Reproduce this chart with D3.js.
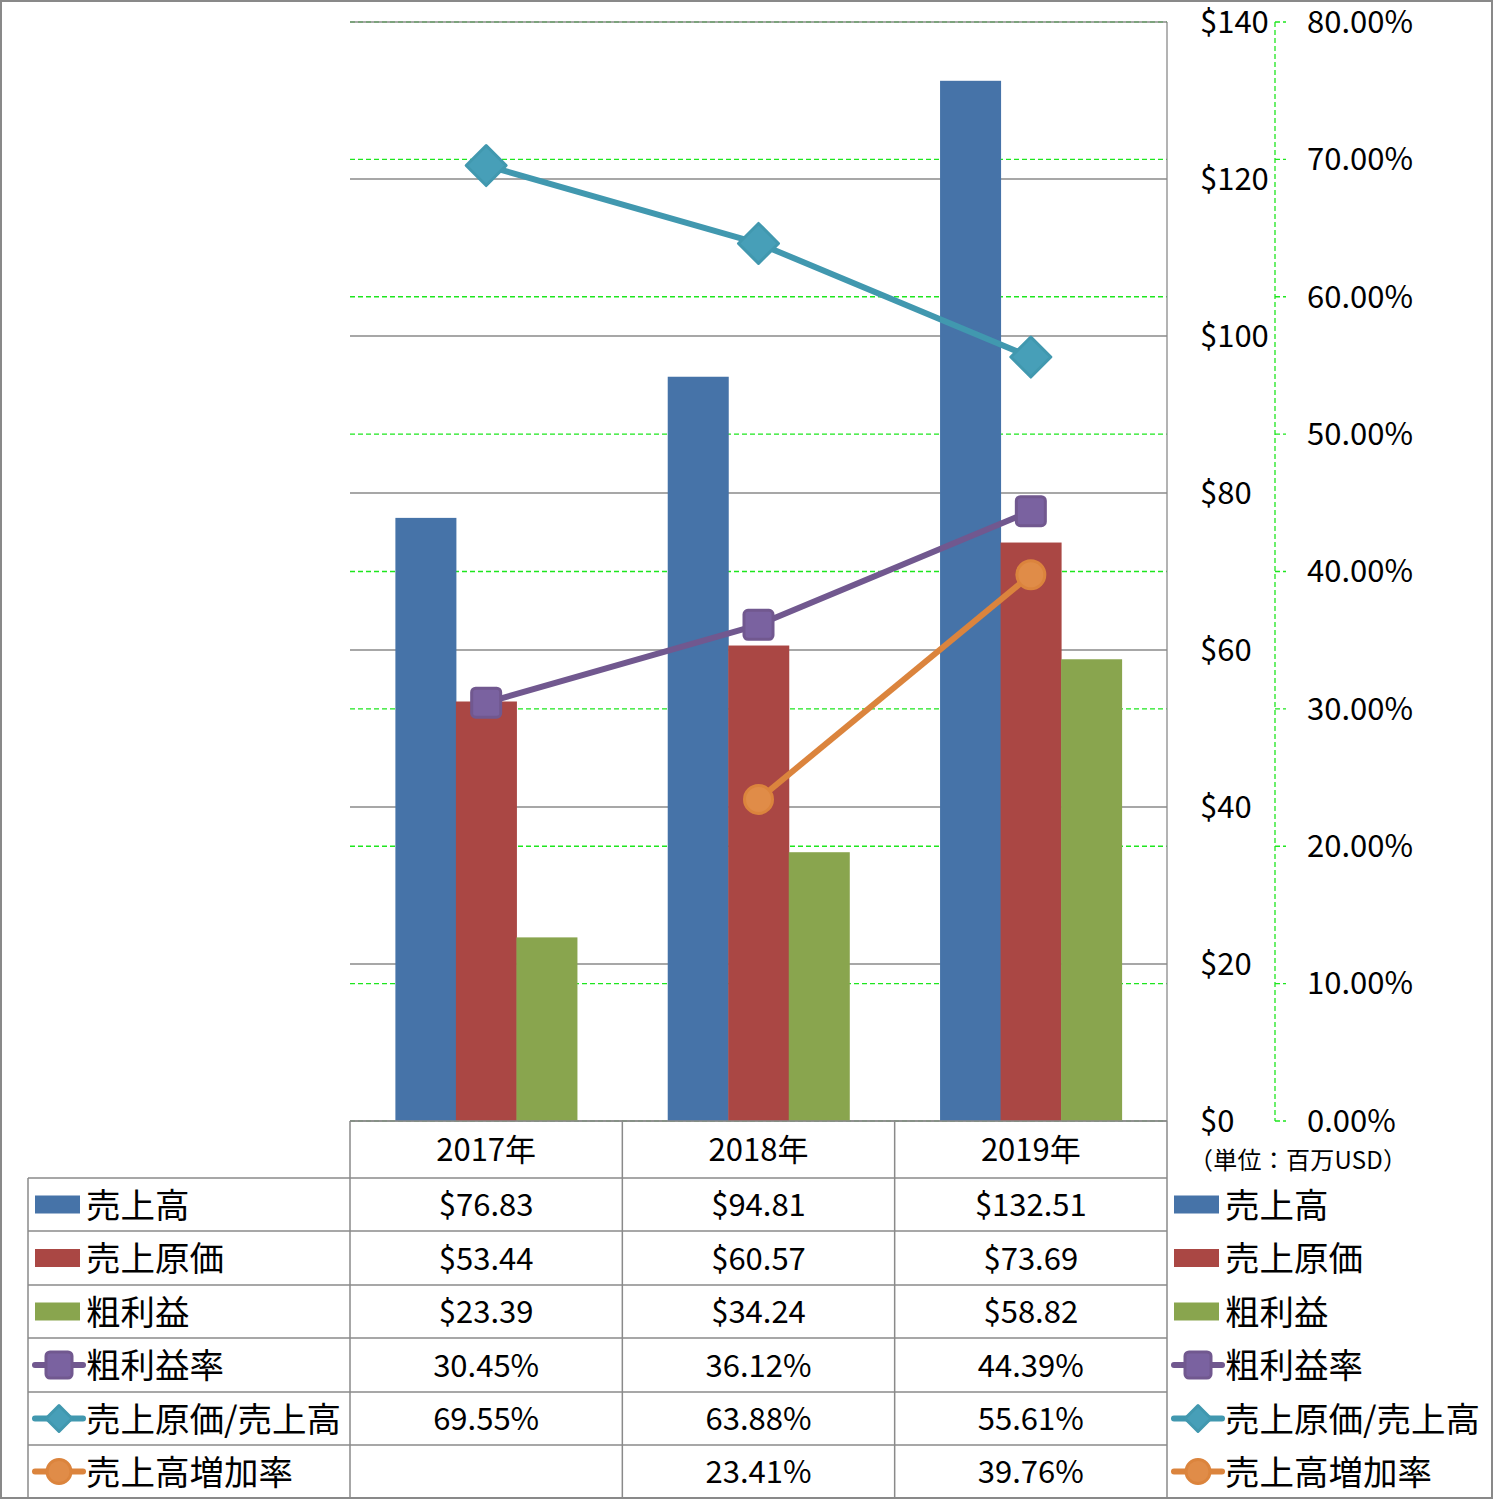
<!DOCTYPE html>
<html><head><meta charset="utf-8">
<script src="https://cdn.jsdelivr.net/npm/d3@7"></script>
<style>
html,body{margin:0;padding:0;background:#fff;}
svg{display:block;font-family:'Noto Sans CJK JP','Noto Sans',sans-serif;}
</style></head>
<body><svg id="c" width="1493" height="1500"></svg>
<script>
const categories = ['2017年','2018年','2019年'];
const sales = [76.83, 94.81, 132.51];
const cogs = [53.44, 60.57, 73.69];
const gross = [23.39, 34.24, 58.82];
const grossMargin = [30.45, 36.12, 44.39];
const cogsRatio = [69.55, 63.88, 55.61];
const salesGrowth = [null, 23.41, 39.76];
const leftTicks = [0, 20, 40, 60, 80, 100, 120, 140];
const rightTicks = [0, 10, 20, 30, 40, 50, 60, 70, 80];
const barNames = ['売上高','売上原価','粗利益'];
const lineNames = ['粗利益率','売上原価/売上高','売上高増加率'];
const unitLabel = '（単位：百万USD）';

const barColors = ['#4673A8','#AA4744','#89A54E'];
const lineColors = ['#71588F','#4198AF','#DB843D'];
const markerFill = ['#7A62A0','#479FB8','#E08C48'];

const svg = d3.select('#c');
const L = 350, R = 1167, T = 22, B = 1121;
const grid = '#8a8a8a';

const y = d3.scaleLinear().domain([0,140]).range([B,T]);
const y2 = d3.scaleLinear().domain([0,80]).range([B,T]);
const x = d3.scaleBand().domain(categories).range([L,R]).padding(0);
const bw = x.bandwidth()/4.5;
const xs = d3.scaleBand().domain([0,1,2]).range([0, bw*3]);
const cx = c => x(c) + x.bandwidth()/2;

// secondary gridlines (green dashed)
svg.append('g').selectAll('line').data(rightTicks).join('line')
  .attr('x1',L).attr('x2',R).attr('y1',d=>y2(d)).attr('y2',d=>y2(d))
  .attr('stroke','#1ee61e').attr('stroke-width',1.3).attr('stroke-dasharray','5,3');
// primary gridlines
svg.append('g').selectAll('line').data(leftTicks).join('line')
  .attr('x1',L).attr('x2',R).attr('y1',d=>y(d)).attr('y2',d=>y(d))
  .attr('stroke',grid).attr('stroke-width',1.5);
svg.append('line').attr('x1',R).attr('x2',R).attr('y1',T).attr('y2',B).attr('stroke',grid).attr('stroke-width',1.3);

// bars
const barSeries = [sales, cogs, gross];
barSeries.forEach((vals,si)=>{
  svg.append('g').selectAll('rect').data(vals).join('rect')
    .attr('x',(d,i)=>cx(categories[i]) - bw*1.5 + xs(si))
    .attr('width',bw+0.5)
    .attr('y',d=>y(d)).attr('height',d=>B-y(d))
    .attr('fill',barColors[si]);
});

// lines
const lineSeries = [grossMargin, cogsRatio, salesGrowth];
function marker(g, type, color, fill, s){
  if(type===0){
    g.append('rect').attr('x',-s/2).attr('y',-s/2).attr('width',s).attr('height',s).attr('rx',4)
      .attr('fill',fill).attr('stroke',color).attr('stroke-width',3);
  } else if(type===1){
    g.append('path').attr('d',`M0,${-s}L${s},0L0,${s}L${-s},0Z`).attr('fill',fill)
      .attr('stroke',color).attr('stroke-width',3).attr('stroke-linejoin','round');
  } else {
    g.append('circle').attr('r',s).attr('fill',fill).attr('stroke',color).attr('stroke-width',3);
  }
}
lineSeries.forEach((vals,si)=>{
  const pts = vals.map((v,i)=>({v, x:cx(categories[i])})).filter(p=>p.v!==null);
  svg.append('path').datum(pts)
    .attr('d', d3.line().x(p=>p.x).y(p=>y2(p.v)))
    .attr('fill','none').attr('stroke',lineColors[si]).attr('stroke-width',6).attr('stroke-linejoin','round');
  pts.forEach(p=>{
    const g = svg.append('g').attr('transform',`translate(${p.x},${y2(p.v)})`);
    marker(g, si, lineColors[si], markerFill[si], si===0?29:(si===1?20:14));
  });
});

// left value axis labels (to the right of plot)
svg.append('g').selectAll('text').data(leftTicks).join('text')
  .attr('x',1200).attr('y',d=>y(d)).attr('dy','0.35em')
  .attr('font-size',31).attr('fill','#000').text(d=>'$'+d);
// secondary axis
svg.append('line').attr('x1',1275).attr('x2',1275).attr('y1',T).attr('y2',B)
  .attr('stroke','#1ee61e').attr('stroke-width',1.3).attr('stroke-dasharray','5,3');
svg.append('g').selectAll('line').data(rightTicks).join('line')
  .attr('x1',1275).attr('x2',1286).attr('y1',d=>y2(d)).attr('y2',d=>y2(d))
  .attr('stroke','#1ee61e').attr('stroke-width',1.3).attr('stroke-dasharray','5,3');
svg.append('g').selectAll('text').data(rightTicks).join('text')
  .attr('x',1307).attr('y',d=>y2(d)).attr('dy','0.35em')
  .attr('font-size',31).attr('fill','#000').text(d=>d.toFixed(2)+'%');
svg.append('text').attr('x',1189).attr('y',1161).attr('dy','0.35em')
  .attr('font-size',24).attr('fill','#000')
  .attr('textLength',218).attr('lengthAdjust','spacing').text(unitLabel);

// data table
const rowsY = [1121,1178,1231,1285,1338,1392,1445,1498];
const tl = svg.append('g').attr('stroke',grid).attr('stroke-width',1.5);
tl.append('line').attr('x1',L).attr('x2',R).attr('y1',1121).attr('y2',1121);
rowsY.slice(1).forEach(yy=>tl.append('line').attr('x1',28).attr('x2',R).attr('y1',yy).attr('y2',yy));
[L, x('2018年'), x('2019年'), R].forEach(xx=>tl.append('line').attr('x1',xx).attr('x2',xx).attr('y1',1121).attr('y2',1498));
tl.append('line').attr('x1',28).attr('x2',28).attr('y1',1178).attr('y2',1498);

svg.append('g').selectAll('text').data(categories).join('text')
  .attr('x',d=>cx(d)).attr('y',(rowsY[0]+rowsY[1])/2+1).attr('dy','0.35em')
  .attr('text-anchor','middle').attr('font-size',31).text(d=>d);

const rowVals = [
  sales.map(v=>'$'+v.toFixed(2)),
  cogs.map(v=>'$'+v.toFixed(2)),
  gross.map(v=>'$'+v.toFixed(2)),
  grossMargin.map(v=>v.toFixed(2)+'%'),
  cogsRatio.map(v=>v.toFixed(2)+'%'),
  salesGrowth.map(v=>v===null?'':v.toFixed(2)+'%')
];
rowVals.forEach((vals,ri)=>{
  const yc = (rowsY[ri+1]+rowsY[ri+2])/2;
  vals.forEach((t,ci)=>{
    svg.append('text').attr('x',cx(categories[ci])).attr('y',yc+1).attr('dy','0.35em')
      .attr('text-anchor','middle').attr('font-size',31).text(t);
  });
});

// legends (left in table, right outside)
const allNames = barNames.concat(lineNames);
function legend(x0, ri){
  const yc = (rowsY[ri+1]+rowsY[ri+2])/2;
  const g = svg.append('g').attr('transform',`translate(${x0},${yc})`);
  if(ri<3){
    g.append('rect').attr('x',0).attr('y',-9).attr('width',45).attr('height',18).attr('fill',barColors[ri]);
  } else {
    const li = ri-3;
    g.append('line').attr('x1',0).attr('x2',48).attr('y1',0).attr('y2',0)
      .attr('stroke',lineColors[li]).attr('stroke-width',6).attr('stroke-linecap','round');
    const m = g.append('g').attr('transform','translate(24,0)');
    marker(m, li, lineColors[li], markerFill[li], li===0?26:(li===1?13:12));
  }
  g.append('text').attr('x',51).attr('y',1).attr('dy','0.35em').attr('font-size',34.5).attr('fill','#000').text(allNames[ri]);
}
for(let i=0;i<6;i++){ legend(35, i); legend(1174, i); }

// outer border
svg.append('rect').attr('x',1).attr('y',1).attr('width',1491).attr('height',1497)
  .attr('fill','none').attr('stroke','#898989').attr('stroke-width',2);
</script></body></html>
